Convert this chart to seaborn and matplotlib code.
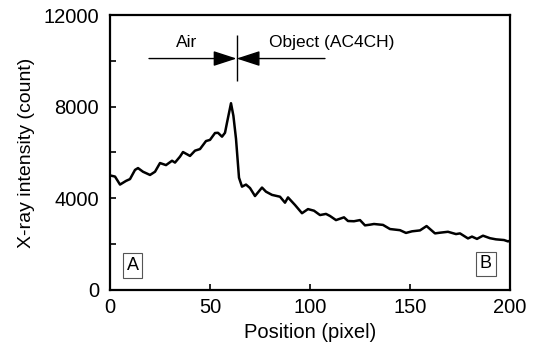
import matplotlib
matplotlib.use("Agg")
import matplotlib.pyplot as plt
import seaborn as sns

# X-ray intensity profile
position = [0, 2.5, 5, 8, 10, 12.5, 14, 16.5, 20, 22.5, 25, 28, 31, 32.5, 35, 36.5,
            40, 42.5, 45, 48, 50, 52.5, 54, 56, 57.5, 58.5, 60.5, 61.7, 63, 64.5,
            66, 68, 70, 72.5, 76, 78, 81, 85, 87.5, 89, 92.5, 96, 99, 102, 105,
            108, 110, 113, 117, 119, 122, 125, 127.5, 130, 132, 136.5, 140, 145,
            148, 151, 155, 158.3, 162.5, 165, 169, 173, 175, 179, 181, 183.5,
            186.5, 190, 193, 197, 199, 200]
intensity = [5000, 4950, 4600, 4760, 4840, 5240, 5320, 5160, 5020, 5160, 5540,
             5450, 5640, 5560, 5820, 6020, 5850, 6080, 6150, 6500, 6550, 6850,
             6860, 6690, 6860, 7300, 8150, 7600, 6600, 4900, 4510, 4600, 4450,
             4100, 4470, 4290, 4150, 4070, 3810, 4040, 3710, 3350, 3530, 3460,
             3270, 3320, 3230, 3050, 3170, 3010, 3000, 3050, 2820, 2850, 2880,
             2840, 2660, 2610, 2490, 2560, 2600, 2790, 2470, 2500, 2540, 2440,
             2470, 2250, 2330, 2230, 2370, 2260, 2210, 2180, 2120, 2150]

boundary = 63.3

sns.set_theme(style="ticks")
plt.rcParams['font.family'] = ['Liberation Sans', 'DejaVu Sans']
plt.rcParams['text.color'] = 'black'
plt.rcParams['axes.labelcolor'] = 'black'
plt.rcParams['xtick.direction'] = 'in'
plt.rcParams['ytick.direction'] = 'in'

fig = plt.figure(figsize=(5.33, 3.53), dpi=100)
ax = fig.add_axes([0.2064, 0.1785, 0.7504, 0.779])
ax.set_axisbelow(False)

sns.lineplot(x=position, y=intensity, color='black', linewidth=1.8, ax=ax)

ax.set_xlim(0, 200)
ax.set_ylim(0, 12000)
ax.set_xticks([0, 50, 100, 150, 200])
ax.set_yticks([0, 2000, 4000, 6000, 8000, 10000, 12000])
ax.set_yticklabels(['0', '', '4000', '', '8000', '', '12000'])
ax.tick_params(which='both', direction='in', length=4.5, width=1.2, labelsize=14.5,
               color='black', labelcolor='black', pad=6, bottom=True, left=True,
               top=False, right=False)
ax.tick_params(axis='y', pad=8)
for s in ax.spines.values():
    s.set_linewidth(1.6)
    s.set_color('black')
    s.set_visible(True)

ax.set_xlabel('Position (pixel)', fontsize=14.5, labelpad=4)
ax.set_ylabel('X-ray intensity (count)', fontsize=14, labelpad=6)

# boundary marker and arrows
ax.vlines(boundary, 9120, 11130, color='black', lw=1.0)
arrow = dict(arrowstyle='-|>,head_length=0.8,head_width=0.26', mutation_scale=18,
             color='black', lw=1.0, shrinkA=0, shrinkB=0)
ax.annotate('', xy=(boundary, 10100), xytext=(19.5, 10100), arrowprops=arrow)
ax.annotate('', xy=(boundary, 10100), xytext=(107.5, 10100), arrowprops=arrow)
ax.text(38.3, 10780, 'Air', fontsize=12.5, ha='center', va='center')
ax.text(110.7, 10780, 'Object (AC4CH)', fontsize=12.5, ha='center', va='center')

box = dict(boxstyle='square,pad=0.2', fc='white', ec='#555555', lw=0.8)
ax.text(11.3, 1070, 'A', fontsize=13, ha='center', va='center', bbox=box)
ax.text(188, 1135, 'B', fontsize=13, ha='center', va='center', bbox=box)

fig.savefig('out.png', dpi=100)
